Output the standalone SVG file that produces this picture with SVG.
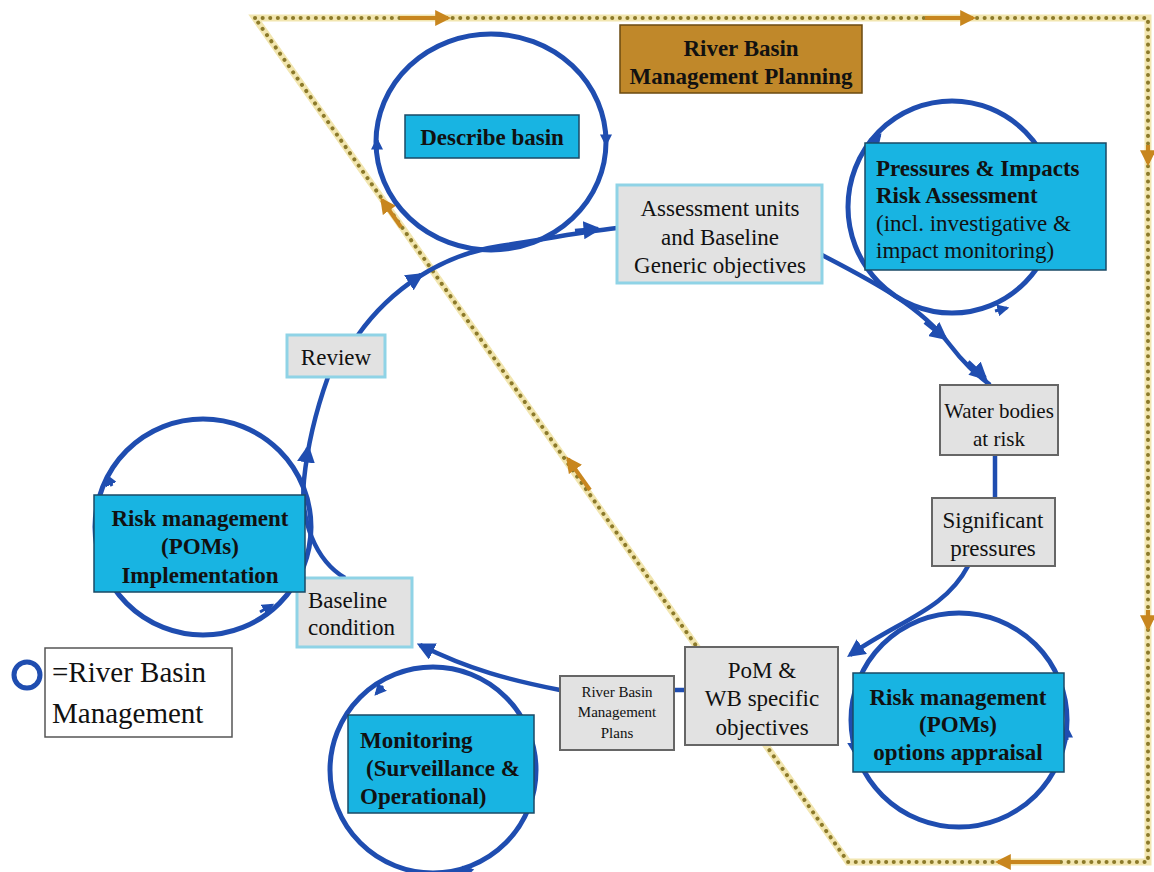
<svg xmlns="http://www.w3.org/2000/svg" width="1154" height="872" viewBox="0 0 1154 872">
<defs>
<style>
.t{font-family:"Liberation Serif","Times New Roman",serif;font-size:23px;fill:#111}
.b{font-weight:bold}
.c{text-anchor:middle}
.cyan{fill:#18B4E2;stroke:#1a4a66;stroke-width:1.5}
.gray{fill:#E2E2E2;stroke:#666;stroke-width:2}
.grayb{fill:#E2E2E2;stroke:#8FD3E6;stroke-width:3}
.loop{fill:none;stroke:#1F4DB0;stroke-width:5}
.con{fill:none;stroke:#1F4DB0;stroke-width:4.5}
.tick{fill:none;stroke:#1F4DB0;stroke-width:3}
.gold{fill:none;stroke:#C8861E;stroke-width:4}
</style>
<marker id="ab" viewBox="0 0 10 10" refX="8" refY="5" markerWidth="4" markerHeight="4" orient="auto" markerUnits="strokeWidth">
<path d="M0,0 L10,5 L0,10 z" fill="#1F4DB0"/>
</marker>
<marker id="ag" viewBox="0 0 10 10" refX="8" refY="5" markerWidth="4" markerHeight="4" orient="auto" markerUnits="strokeWidth">
<path d="M0,0 L10,5 L0,10 z" fill="#C8861E"/>
</marker>
</defs>
<rect width="1154" height="872" fill="#fff"/>

<g id="planning-border">
<path d="M255,18 H1148 V862 H848 Z" fill="none" stroke="#F2E6B0" stroke-width="7"/>
<path d="M255,18 H1148 V862 H848 Z" fill="none" stroke="#8C7A2A" stroke-width="4" stroke-linecap="round" stroke-dasharray="0.1 7.5"/>
<path class="gold" d="M400,18 H448" marker-end="url(#ag)"/>
<path class="gold" d="M925,18 H973" marker-end="url(#ag)"/>
<path class="gold" d="M1148,145 V163" marker-end="url(#ag)"/>
<path class="gold" d="M1148,610 V628" marker-end="url(#ag)"/>
<path class="gold" d="M1060,862 H998" marker-end="url(#ag)"/>
<path class="gold" d="M401,227 L382,200" marker-end="url(#ag)"/>
<path class="gold" d="M590,490 L568,459" marker-end="url(#ag)"/>
</g>

<g id="connectors">
<path class="con" d="M345,578 C 315,560 300,520 304,480 C 308,440 318,405 328,377" />
<path class="con" d="M306,462 L308,448" marker-end="url(#ab)"/>
<path class="con" d="M358,335 C 390,290 440,255 500,246 C 540,240 580,232 617,228"/>
<path class="con" d="M410,282 L421,275" marker-end="url(#ab)"/>
<path class="con" d="M575,231 L598,229" marker-end="url(#ab)"/>
<path class="con" d="M822,255 C 870,280 920,305 950,345 C 965,365 978,375 990,385"/>
<path class="con" d="M925,322 L945,338" marker-end="url(#ab)"/>
<path class="con" d="M968,362 L985,378" marker-end="url(#ab)"/>
<path class="con" d="M995,455 V498"/>
<path class="con" d="M968,566 C 945,610 900,620 850,655" marker-end="url(#ab)"/>
<path class="con" d="M672,690 H688"/>
<path class="con" d="M560,690 C 510,680 470,670 420,645" marker-end="url(#ab)"/>
</g>

<g id="title">
<rect x="620" y="25" width="242" height="68" fill="#C0882A" stroke="#6b4a10" stroke-width="1.5"/>
<text class="t b c" x="741" y="56">River Basin</text>
<text class="t b c" x="741" y="84">Management Planning</text>
</g>

<g id="describe-basin">
<ellipse class="loop" cx="491" cy="142" rx="115" ry="108"/>
<path class="tick" d="M377,152 L377,140" marker-end="url(#ab)"/>
<path class="tick" d="M606,132 L606,144" marker-end="url(#ab)"/>
<rect class="cyan" x="405" y="115" width="174" height="43"/>
<text class="t b c" x="492" y="145">Describe basin</text>
</g>

<g id="assessment-units">
<rect class="grayb" x="617" y="185" width="205" height="98"/>
<text class="t c" x="720" y="216">Assessment units</text>
<text class="t c" x="720" y="245">and Baseline</text>
<text class="t c" x="720" y="273">Generic objectives</text>
</g>

<g id="pressures-impacts">
<ellipse class="loop" cx="952" cy="207" rx="104" ry="106"/>
<path class="tick" d="M872,145 L880,135" marker-end="url(#ab)"/>
<path class="tick" d="M995,311 L1007,308" marker-end="url(#ab)"/>
<rect class="cyan" x="865" y="143" width="241" height="127"/>
<text class="t b" x="876" y="176">Pressures &amp; Impacts</text>
<text class="t b" x="876" y="203">Risk Assessment</text>
<text class="t" x="876" y="231">(incl. investigative &amp;</text>
<text class="t" x="876" y="258">impact monitoring)</text>
</g>

<g id="water-bodies">
<rect class="gray" x="940" y="385" width="118" height="70"/>
<text class="t c" x="999" y="418" style="font-size:21px">Water bodies</text>
<text class="t c" x="999" y="446" style="font-size:21px">at risk</text>
</g>

<g id="significant-pressures">
<rect class="gray" x="932" y="498" width="123" height="68"/>
<text class="t c" x="993" y="528">Significant</text>
<text class="t c" x="993" y="556">pressures</text>
</g>

<g id="options-appraisal">
<ellipse class="loop" cx="959" cy="720" rx="108" ry="107"/>
<path class="tick" d="M853,740 L854,752" marker-end="url(#ab)"/>
<path class="tick" d="M1067,740 L1067,728" marker-end="url(#ab)"/>
<rect class="cyan" x="853" y="673" width="211" height="99"/>
<text class="t b c" x="958" y="705">Risk management</text>
<text class="t b c" x="958" y="732">(POMs)</text>
<text class="t b c" x="958" y="760">options appraisal</text>
</g>

<g id="pom-objectives">
<rect class="gray" x="685" y="647" width="153" height="98"/>
<text class="t c" x="762" y="678">PoM &amp;</text>
<text class="t c" x="762" y="706">WB specific</text>
<text class="t c" x="762" y="735">objectives</text>
</g>

<g id="rbm-plans">
<rect class="gray" x="560" y="676" width="114" height="74"/>
<text class="t c" x="617" y="697" style="font-size:15px">River Basin</text>
<text class="t c" x="617" y="717" style="font-size:15px">Management</text>
<text class="t c" x="617" y="738" style="font-size:15px">Plans</text>
</g>

<g id="monitoring">
<ellipse class="loop" cx="433" cy="770" rx="103" ry="103"/>
<path class="tick" d="M383,686 L376,694" marker-end="url(#ab)"/>
<path class="tick" d="M460,872 L472,870" marker-end="url(#ab)"/>
<rect class="cyan" x="348" y="715" width="186" height="98"/>
<text class="t b" x="360" y="748">Monitoring</text>
<text class="t b" x="366" y="776">(Surveillance &amp;</text>
<text class="t b" x="360" y="804">Operational)</text>
</g>

<g id="baseline-condition">
<rect class="grayb" x="297" y="578" width="115" height="69"/>
<text class="t" x="308" y="608">Baseline</text>
<text class="t" x="308" y="635">condition</text>
</g>

<g id="implementation">
<ellipse class="loop" cx="203" cy="527" rx="108" ry="108"/>
<path class="tick" d="M112,486 L107,476" marker-end="url(#ab)"/>
<path class="tick" d="M260,612 L272,605" marker-end="url(#ab)"/>
<rect class="cyan" x="94" y="495" width="211" height="97"/>
<text class="t b c" x="200" y="526">Risk management</text>
<text class="t b c" x="200" y="554">(POMs)</text>
<text class="t b c" x="200" y="583">Implementation</text>
</g>

<g id="review">
<rect class="grayb" x="287" y="335" width="98" height="42"/>
<text class="t c" x="336" y="365">Review</text>
</g>

<g id="legend">
<circle cx="27" cy="675" r="13" fill="none" stroke="#1F4DB0" stroke-width="5"/>
<rect x="45" y="648" width="187" height="89" fill="#fff" stroke="#555" stroke-width="1.5"/>
<text class="t" x="52" y="682" style="font-size:29px">=River Basin</text>
<text class="t" x="52" y="723" style="font-size:29px">Management</text>
</g>
</svg>
